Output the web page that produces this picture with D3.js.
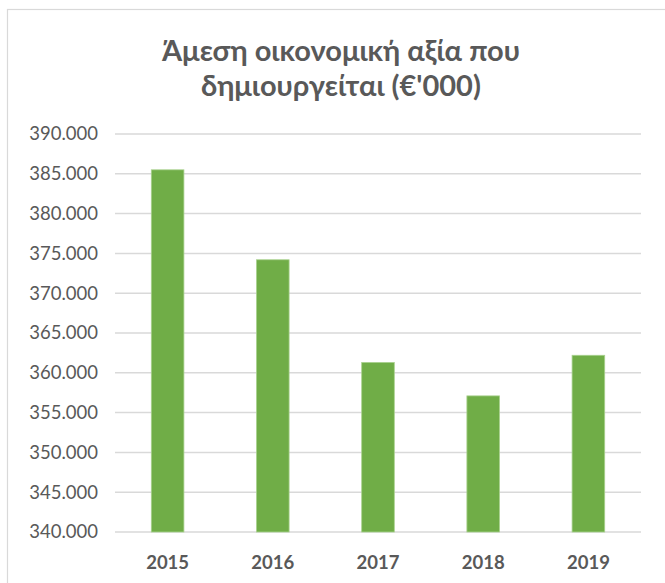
<!DOCTYPE html>
<html>
<head>
<meta charset="utf-8">
<script src="https://cdn.jsdelivr.net/npm/d3@7"></script>
<style>
body{margin:0;background:#fff;}
text{font-family:Lato,"Open Sans",sans-serif;}
</style>
</head>
<body>
<script>
// data
const years=["2015","2016","2017","2018","2019"]
const values=[385500,374200,361300,357100,362200]
const yTicks=[340000,345000,350000,355000,360000,365000,370000,375000,380000,385000,390000]
const titleLines=["Άμεση οικονομική αξία που","δημιουργείται (€'000)"]

const w=665, h=583
const plotLeft=115, plotRight=641, plotTop=134, plotBottom=532

const svg=d3.select("body").append("svg")
    .attr("width",w)
    .attr("height",h)

// chart border
svg.append("rect")
    .attr("x",7.5).attr("y",9.5)
    .attr("width",700).attr("height",600)
    .attr("fill","none")
    .attr("stroke","#d9d9d9")
    .attr("stroke-width",1.2)

const x=d3.scaleBand().domain(years).range([plotLeft,plotRight]).paddingInner(0.69).paddingOuter(0.345)
const y=d3.scaleLinear().domain([340000,390000]).range([plotBottom,plotTop])

const fmt=d=>d3.format(",")(d).replace(/,/g,".")

// gridlines
svg.append("g").selectAll("line")
    .data(yTicks)
    .enter().append("line")
    .attr("x1",plotLeft).attr("x2",plotRight)
    .attr("y1",d=>y(d)).attr("y2",d=>y(d))
    .attr("stroke","#d9d9d9")
    .attr("stroke-width",1.5)

// y axis labels
const yAxis=d3.axisLeft(y).tickValues(yTicks).tickFormat(fmt).tickSize(0).tickPadding(0)
const ya=svg.append("g").attr("transform","translate(98,0)").call(yAxis)
ya.select(".domain").remove()
ya.selectAll("text")
    .attr("fill","#595959")
    .style("font-size","18.5px")
    .style("font-family","Lato")

// bars
svg.append("g").selectAll("rect")
    .data(values)
    .enter().append("rect")
    .attr("x",(d,i)=>x(years[i]))
    .attr("y",d=>y(d))
    .attr("width",x.bandwidth())
    .attr("height",d=>y(340000)-y(d))
    .attr("fill","#70ad47")
    .attr("stroke","#a9d18e")
    .attr("stroke-width",0.8)

// x labels
const xAxis=d3.axisBottom(x).tickSize(0).tickPadding(0)
const xa=svg.append("g").attr("transform","translate(0,556)").call(xAxis)
xa.select(".domain").remove()
xa.selectAll("text")
    .attr("fill","#595959")
    .style("font-size","18.5px")
    .style("font-weight","700")
    .style("font-family","Lato")

// title
svg.append("g").selectAll("text")
    .data(titleLines)
    .enter().append("text")
    .attr("x",341)
    .attr("y",(d,i)=>61+i*35)
    .attr("text-anchor","middle")
    .attr("fill","#595959")
    .style("font-size","29px")
    .style("font-weight","700")
    .text(d=>d)
</script>
</body>
</html>
